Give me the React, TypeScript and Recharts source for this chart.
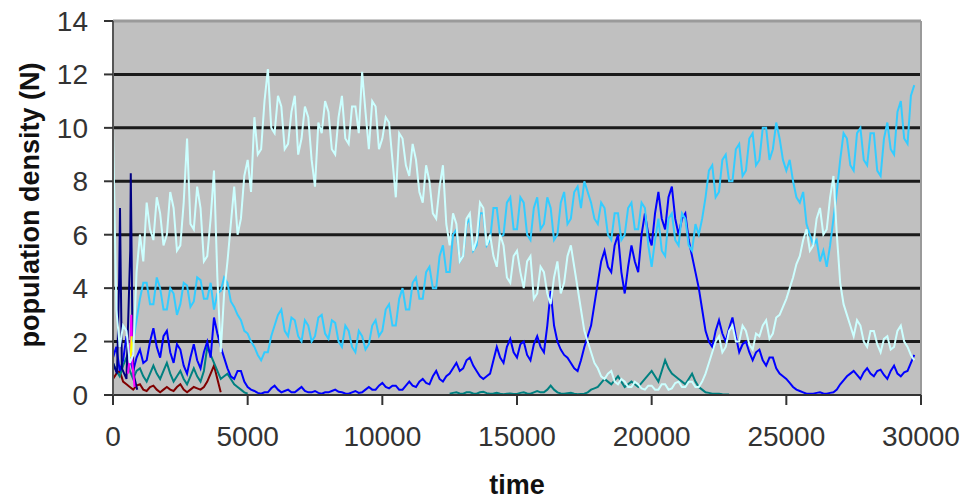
import React from 'react';
import { LineChart, Line, XAxis, YAxis, CartesianGrid, ReferenceLine, Label } from 'recharts';

// time grid shared by the series (step 125)
const TIME = [
  0, 125, 250, 375, 500, 625, 750, 875,
  1000, 1125, 1250, 1375, 1500, 1625, 1750, 1875,
  2000, 2125, 2250, 2375, 2500, 2625, 2750, 2875,
  3000, 3125, 3250, 3375, 3500, 3625, 3750, 3875,
  4000, 4125, 4250, 4375, 4500, 4625, 4750, 4875,
  5000, 5125, 5250, 5375, 5500, 5625, 5750, 5875,
  6000, 6125, 6250, 6375, 6500, 6625, 6750, 6875,
  7000, 7125, 7250, 7375, 7500, 7625, 7750, 7875,
  8000, 8125, 8250, 8375, 8500, 8625, 8750, 8875,
  9000, 9125, 9250, 9375, 9500, 9625, 9750, 9875,
  10000, 10125, 10250, 10375, 10500, 10625, 10750, 10875,
  11000, 11125, 11250, 11375, 11500, 11625, 11750, 11875,
  12000, 12125, 12250, 12375, 12500, 12625, 12750, 12875,
  13000, 13125, 13250, 13375, 13500, 13625, 13750, 13875,
  14000, 14125, 14250, 14375, 14500, 14625, 14750, 14875,
  15000, 15125, 15250, 15375, 15500, 15625, 15750, 15875,
  16000, 16125, 16250, 16375, 16500, 16625, 16750, 16875,
  17000, 17125, 17250, 17375, 17500, 17625, 17750, 17875,
  18000, 18125, 18250, 18375, 18500, 18625, 18750, 18875,
  19000, 19125, 19250, 19375, 19500, 19625, 19750, 19875,
  20000, 20125, 20250, 20375, 20500, 20625, 20750, 20875,
  21000, 21125, 21250, 21375, 21500, 21625, 21750, 21875,
  22000, 22125, 22250, 22375, 22500, 22625, 22750, 22875,
  23000, 23125, 23250, 23375, 23500, 23625, 23750, 23875,
  24000, 24125, 24250, 24375, 24500, 24625, 24750, 24875,
  25000, 25125, 25250, 25375, 25500, 25625, 25750, 25875,
  26000, 26125, 26250, 26375, 26500, 26625, 26750, 26875,
  27000, 27125, 27250, 27375, 27500, 27625, 27750, 27875,
  28000, 28125, 28250, 28375, 28500, 28625, 28750, 28875,
  29000, 29125, 29250, 29375, 29500, 29625, 29750, 29875,
  30000,
];

const pale = [
  10.0, 3.2, 1.8, 2.6, 2.4, 1.2, 1.5, 4.6,
  6.0, 5.0, 7.2, 6.2, 5.8, 7.4, 6.8, 5.6,
  6.0, 7.6, 7.0, 5.4, 5.6, 7.2, 9.6, 6.4,
  6.2, 7.8, 7.0, 5.0, 5.2, 6.6, 8.4, 4.4,
  1.6, 3.8, 5.0, 6.4, 7.8, 6.0, 6.6, 8.2,
  8.8, 7.6, 10.4, 9.0, 9.2, 11.0, 12.2, 10.0,
  9.8, 11.2, 10.8, 9.2, 9.4, 10.6, 11.2, 9.0,
  9.6, 10.8, 10.4, 8.8, 7.8, 10.2, 9.8, 11.0,
  10.6, 9.2, 9.0, 10.4, 11.2, 9.6, 9.4, 10.8,
  10.8, 9.8, 12.1, 10.6, 9.2, 11.0, 10.8, 9.2,
  9.6, 10.4, 10.2, 8.8, 7.4, 9.8, 9.6, 8.6,
  8.2, 9.4, 8.8, 7.6, 7.2, 8.6, 8.0, 6.8,
  6.6, 7.8, 8.6, 6.4, 5.6, 6.8, 6.4, 5.0,
  5.2, 6.6, 6.8, 5.4, 5.8, 7.2, 7.0, 5.6,
  6.0, 5.2, 4.8, 6.0, 5.6, 4.4, 4.2, 5.2,
  5.4, 4.6, 4.0, 5.0, 5.2, 3.6, 3.8, 4.8,
  4.6, 3.8, 3.4, 4.4, 5.0, 3.8, 4.2, 5.2,
  5.6, 4.8, 4.0, 3.2, 2.4, 2.0, 1.6, 1.2,
  1.0, 0.7, 0.6, 0.8, 0.9, 0.5, 0.4, 0.6,
  0.5, 0.3, 0.3, 0.5, 0.4, 0.25, 0.2, 0.35,
  0.35, 0.2, 0.2, 0.4, 0.4, 0.2, 0.25, 0.45,
  0.5, 0.3, 0.3, 0.5, 0.5, 0.3, 0.3, 0.5,
  0.8, 1.2, 1.6, 2.0, 2.2, 1.6, 1.8, 2.4,
  2.6, 2.0, 2.0, 2.6, 2.4, 1.9, 1.7, 2.3,
  2.2, 2.6, 2.8, 2.1, 2.3, 2.9, 3.0, 3.3,
  3.6, 4.0, 4.4, 4.9, 5.2, 5.8, 6.2, 5.4,
  5.6, 6.6, 7.0, 6.0, 6.2, 7.4, 8.2, 6.0,
  4.2, 3.4, 3.0, 2.6, 2.2, 2.8, 2.6, 2.0,
  1.8, 2.4, 2.4, 1.9, 1.6, 2.1, 2.2, 1.7,
  1.8, 2.4, 2.6, 2.0, 1.8, 1.5, 1.3,
];

const sky = [
  null, null, null, null, null, null, 2.0, 2.8,
  3.6, 4.2, 4.2, 3.4, 3.4, 4.4, 4.0, 3.2,
  3.2, 4.0, 3.8, 3.0, 3.4, 4.2, 4.1, 3.3,
  3.5, 4.4, 4.3, 3.6, 3.6, 4.2, 3.2, 3.8,
  3.9, 4.4, 4.2, 3.5, 3.3, 3.0, 2.8, 2.4,
  2.3, 2.0, 1.8, 1.5, 1.3, 1.6, 1.6, 2.2,
  2.6, 3.0, 3.2, 2.4, 2.2, 2.9, 2.8, 2.2,
  2.0, 2.8, 2.6, 2.0, 2.2, 2.9, 3.0, 2.3,
  2.1, 2.8, 2.7, 2.0, 1.8, 2.6, 2.4, 1.8,
  1.6, 2.4, 2.2, 1.7, 1.9, 2.6, 2.8, 2.2,
  2.4, 3.2, 3.4, 2.6, 2.6, 3.6, 4.0, 3.2,
  3.2, 4.2, 4.4, 3.6, 3.6, 4.6, 4.8, 4.0,
  4.0, 5.2, 5.6, 4.6, 4.6, 6.0, 6.2, 5.0,
  5.2, 6.4, 6.6, 5.4, 5.6, 6.8, 6.8, 5.6,
  5.8, 7.0, 7.0, 5.9, 6.0, 7.2, 7.4, 6.2,
  6.2, 7.4, 7.2, 6.0, 5.8, 7.0, 7.4, 6.2,
  6.4, 7.4, 7.0, 5.8, 6.0, 7.2, 7.6, 6.4,
  6.6, 7.6, 7.8, 7.0, 8.0, 7.6, 7.2, 6.6,
  6.4, 7.2, 7.0, 6.0, 5.8, 6.8, 6.8, 5.8,
  6.0, 7.0, 7.2, 6.2, 6.2, 7.2, 7.0, 5.6,
  4.8, 5.8, 6.6, 5.4, 5.2, 6.6, 6.8, 5.8,
  5.6, 6.8, 6.6, 5.6, 5.4, 6.4, 6.0, 6.6,
  7.4, 8.4, 8.6, 7.4, 7.6, 8.8, 9.0, 8.0,
  8.0, 9.2, 9.4, 8.2, 8.4, 9.6, 9.8, 8.6,
  8.8, 10.0, 10.0, 8.8, 9.2, 10.2, 9.6, 8.8,
  8.4, 8.8, 8.0, 7.4, 7.2, 7.6, 6.4, 6.0,
  5.6, 5.8, 5.0, 5.4, 4.8, 5.6, 6.6, 7.6,
  8.8, 9.8, 9.6, 8.6, 8.4, 9.8, 10.0, 8.8,
  8.6, 9.8, 9.8, 8.4, 8.2, 9.6, 10.2, 9.2,
  9.0, 10.6, 11.0, 9.6, 9.4, 11.2, 11.6,
];

const blue = [
  1.4, 1.8, 0.9, 1.3, 2.2, 1.4, 0.9, 1.4,
  1.7, 1.2, 1.3, 2.0, 2.5, 1.8, 1.4, 2.2,
  2.4, 1.6, 1.2, 1.9, 1.7, 1.1, 0.8, 1.4,
  1.9, 1.3, 1.0, 1.6, 2.0, 1.4, 2.9, 2.3,
  1.8, 1.4, 1.0, 0.7, 0.6, 0.9, 0.9, 0.5,
  0.3, 0.2, 0.15, 0.08, 0.05, 0.1, 0.1, 0.25,
  0.35, 0.2, 0.1, 0.15, 0.2, 0.1, 0.1, 0.2,
  0.3, 0.15, 0.1, 0.1, 0.15, 0.08, 0.05, 0.1,
  0.1, 0.15, 0.2, 0.12, 0.1, 0.06, 0.05, 0.1,
  0.15, 0.08, 0.1, 0.2, 0.3, 0.2, 0.2, 0.35,
  0.45, 0.3, 0.25, 0.35, 0.35, 0.2, 0.2, 0.35,
  0.5, 0.35, 0.3, 0.5, 0.6, 0.45, 0.4, 0.7,
  0.9, 0.6, 0.5, 0.7, 0.8, 1.0, 1.2, 0.9,
  1.0, 1.3, 1.4, 1.1, 0.9, 0.7, 0.6, 0.7,
  0.8, 1.3, 1.8, 1.4, 1.2, 1.8, 2.1, 1.6,
  1.4, 1.9, 2.0, 1.5, 1.3, 1.9, 2.2, 1.8,
  1.6, 2.6, 3.9, 2.6, 2.0, 1.7, 1.5, 1.4,
  1.2, 1.0, 0.9, 1.3, 1.8, 2.2, 2.6, 3.4,
  4.2, 5.0, 5.4, 4.8, 4.6, 5.6, 6.0, 4.6,
  3.8, 4.8, 5.6, 5.0, 4.6, 6.0, 6.8, 6.0,
  5.6, 6.8, 7.6, 6.6, 6.2, 7.4, 7.8, 6.6,
  6.0, 6.6, 6.8, 5.8, 5.2, 4.6, 4.0, 3.2,
  2.4, 2.0, 1.8, 2.4, 2.8, 2.3, 2.0, 2.5,
  2.9, 2.2, 1.6, 1.9, 2.0, 1.6, 1.3, 1.6,
  1.7, 1.3, 1.1, 1.4, 1.4, 1.0, 0.8, 0.7,
  0.6, 0.45, 0.3, 0.2, 0.15, 0.1, 0.05, 0.05,
  0.05, 0.08, 0.1, 0.06, 0.05, 0.08, 0.1, 0.2,
  0.4, 0.55, 0.7, 0.8, 0.9, 0.75, 0.6, 0.85,
  1.0, 0.8, 0.7, 0.9, 0.95, 0.75, 0.6, 0.9,
  1.1, 0.8, 0.7, 0.85, 0.9, 1.2, 1.5,
];

// teal appears early (from t = 0) and again later (from t = 12500)
const tealEarly = [
  1.2, 0.9, 0.7, 1.1, 1.4, 0.9, 0.6, 0.9,
  1.0, 0.7, 0.5, 0.8, 1.1, 0.8, 0.6, 0.9,
  1.2, 0.8, 0.5, 0.7, 0.9, 0.6, 0.4, 0.7,
  1.0, 0.7, 0.5, 0.9, 1.8, 1.5, 1.2, 0.9,
  0.6, 0.7, 0.8, 0.6, 0.4, 0.3, 0.2, 0.1,
  0.05,
];
const TEAL_LATE_START = 12500;
const tealLate = [
  0.05, 0.08, 0.1, 0.06,
  0.05, 0.1, 0.1, 0.06, 0.05, 0.1, 0.12, 0.07,
  0.05, 0.06, 0.08, 0.05, 0.03, 0.05, 0.06, 0.04,
  0.04, 0.08, 0.1, 0.06, 0.05, 0.1, 0.15, 0.1,
  0.1, 0.2, 0.35, 0.2, 0.1, 0.06, 0.05, 0.07,
  0.08, 0.05, 0.03, 0.04, 0.05, 0.1, 0.2, 0.25,
  0.3, 0.45, 0.6, 0.5, 0.4, 0.55, 0.7, 0.5,
  0.3, 0.4, 0.5, 0.4, 0.3, 0.45, 0.6, 0.75,
  0.9, 0.7, 0.5, 0.9, 1.3, 1.0, 0.8, 0.7,
  0.6, 0.5, 0.4, 0.6, 0.8, 0.5, 0.3, 0.2,
  0.1, 0.08, 0.05, 0.05, 0.05, 0.03, 0.02, 0.02,
];

const darkRed = [
  0.6, 0.8, 0.9, 0.5, 0.4, 0.3, 0.2, 0.35,
  0.4, 0.2, 0.15, 0.3, 0.35, 0.2, 0.1, 0.2,
  0.3, 0.2, 0.15, 0.3, 0.4, 0.2, 0.1, 0.2,
  0.3, 0.25, 0.2, 0.3, 0.5, 0.8, 1.1, 0.6,
  0.1,
];

// short early series with their own times
const navyTime = [0, 150, 230, 260, 290, 330, 500, 640, 660, 690, 720, 760, 900];
const navy = [1.2, 0.8, 4.4, 7.0, 4.3, 1.0, 0.6, 5.4, 8.3, 5.5, 2.5, 0.8, 0.2];
const magentaTime = [560, 640, 680, 720, 800];
const magenta = [0.8, 1.6, 3.0, 1.2, 0.3];
const yellowTime = [660, 690, 720];
const yellow = [1.4, 2.2, 1.6];

const X_TICKS = [0, 5000, 10000, 15000, 20000, 25000, 30000];
const Y_TICKS = [0, 2, 4, 6, 8, 10, 12, 14];
const GRID_Y = [2, 4, 6, 8, 10, 12];

const pick = (arr: (number | null)[], i: number) => (i < arr.length ? arr[i] : null);
const lateStart = TIME.indexOf(TEAL_LATE_START);

const data = TIME.map((t, i) => ({
  t,
  pale: pick(pale, i),
  sky: pick(sky, i),
  blue: pick(blue, i),
  red: pick(darkRed, i),
  teal: i < tealEarly.length ? tealEarly[i] : i >= lateStart ? pick(tealLate, i - lateStart) : null,
}));
const navyData = navyTime.map((t, i) => ({ t, v: navy[i] }));
const magentaData = magentaTime.map((t, i) => ({ t, v: magenta[i] }));
const yellowData = yellowTime.map((t, i) => ({ t, v: yellow[i] }));

const FONT = '"Liberation Sans", Arial, sans-serif';

const App: React.FC = () => {
  return (
    <div style={{ position: 'absolute', left: 0, top: 0, background: '#fff' }}>
      <LineChart width={969} height={502} data={data} margin={{ top: 21, right: 48, bottom: 37, left: 0 }}>
        <CartesianGrid
          horizontal={true}
          vertical={false}
          fill="#c0c0c0"
          stroke="#1a1a1a"
          strokeWidth={3}
          horizontalValues={GRID_Y}
        />
        <ReferenceLine y={14} stroke="#9a9a9a" strokeWidth={3} />
        <ReferenceLine x={30000} stroke="#9a9a9a" strokeWidth={2} />
        <XAxis
          dataKey="t"
          type="number"
          domain={[0, 30000]}
          ticks={X_TICKS}
          height={70}
          tickSize={10}
          tickMargin={21}
          axisLine={{ stroke: '#333', strokeWidth: 2 }}
          tickLine={{ stroke: '#333', strokeWidth: 2 }}
          tick={{ fill: '#333', fontSize: 28, fontFamily: FONT }}
          interval={0}
        >
          <Label
            content={() => (
              <text x={517} y={494} textAnchor="middle" fontSize={27} fontWeight="bold" fontFamily={FONT} fill="#111">
                time
              </text>
            )}
          />
        </XAxis>
        <YAxis
          type="number"
          domain={[0, 14]}
          ticks={Y_TICKS}
          width={113}
          tickSize={9}
          tickMargin={16}
          axisLine={{ stroke: '#555', strokeWidth: 2 }}
          tickLine={{ stroke: '#333', strokeWidth: 2 }}
          tick={{ fill: '#333', fontSize: 28, fontFamily: FONT }}
          interval={0}
        >
          <Label
            content={() => (
              <text
                x={30}
                y={205}
                transform="rotate(-90, 30, 205)"
                textAnchor="middle"
                dominantBaseline="central"
                fontSize={27}
                fontWeight="bold"
                fontFamily={FONT}
                fill="#111"
              >
                population density (N)
              </text>
            )}
          />
        </YAxis>
        <Line dataKey="red" stroke="#800000" strokeWidth={2} dot={false} isAnimationActive={false} />
        <Line dataKey="teal" stroke="#008080" strokeWidth={2} dot={false} isAnimationActive={false} />
        <Line dataKey="blue" stroke="#0000ff" strokeWidth={2} dot={false} isAnimationActive={false} />
        <Line data={navyData} dataKey="v" stroke="#000080" strokeWidth={2} dot={false} isAnimationActive={false} />
        <Line data={magentaData} dataKey="v" stroke="#ff00ff" strokeWidth={2} dot={false} isAnimationActive={false} />
        <Line data={yellowData} dataKey="v" stroke="#ffff00" strokeWidth={2} dot={false} isAnimationActive={false} />
        <Line dataKey="sky" stroke="#33ccff" strokeWidth={2} dot={false} isAnimationActive={false} />
        <Line dataKey="pale" stroke="#ccffff" strokeWidth={2} dot={false} isAnimationActive={false} />
      </LineChart>
    </div>
  );
};

export default App;
